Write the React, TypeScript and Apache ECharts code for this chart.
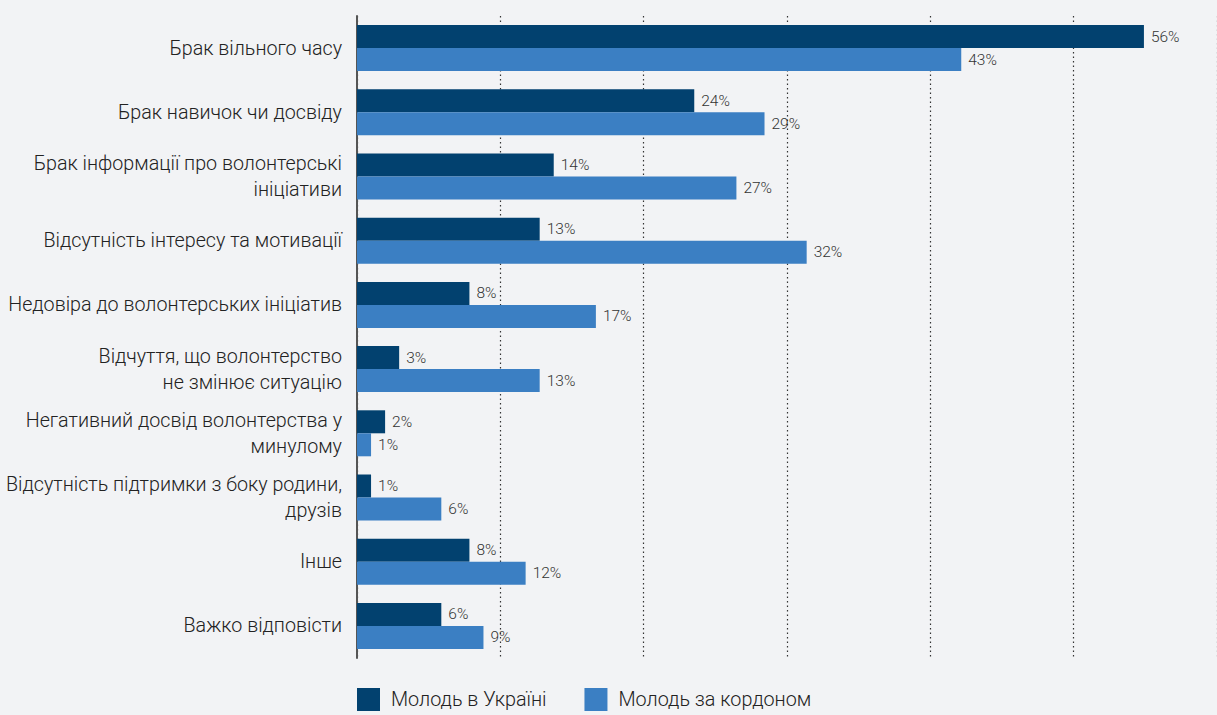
import React, { useEffect, useRef } from "react";
import * as echarts from "echarts";

const categories = [
  "Брак вільного часу",
  "Брак навичок чи досвіду",
  "Брак інформації про волонтерські\nініціативи",
  "Відсутність інтересу та мотивації",
  "Недовіра до волонтерських ініціатив",
  "Відчуття, що волонтерство\nне змінює ситуацію",
  "Негативний досвід волонтерства у\nминулому",
  "Відсутність підтримки з боку родини,\nдрузів",
  "Інше",
  "Важко відповісти",
];
const seriesNames = ["Молодь в Україні", "Молодь за кордоном"];
const ukraine = [56, 24, 14, 13, 8, 3, 2, 1, 8, 6];
const abroad = [43, 29, 27, 32, 17, 13, 1, 6, 12, 9];

const FONT = "Roboto, 'Liberation Sans', sans-serif";

export default function App() {
  const ref = useRef<HTMLDivElement>(null);
  useEffect(() => {
    if (!ref.current) return;
    const chart = echarts.init(ref.current, null, { renderer: "svg" });
    const label = {
      show: true,
      position: "right" as const,
      distance: 7,
      formatter: "{c}%",
      color: "#333",
      fontSize: 15.5,
      fontWeight: 300,
      fontFamily: FONT,
    };
    chart.setOption({
      animation: false,
      backgroundColor: "#f2f3f5",
      textStyle: { fontFamily: FONT },
      grid: { left: 357, right: 0, top: 16, bottom: 57, containLabel: false },
      legend: {
        left: 357,
        top: 688,
        padding: 0,
        itemWidth: 23,
        itemHeight: 23,
        itemGap: 38,
        icon: "rect",
        textStyle: {
          fontSize: 19.8,
          fontWeight: 300,
          color: "#222",
          padding: [0, 0, 0, 6],
          fontFamily: FONT,
        },
        data: seriesNames,
      },
      xAxis: {
        type: "value",
        min: 0,
        max: 61.2,
        interval: 10.2,
        axisLabel: { show: false },
        axisLine: { show: false },
        axisTick: { show: false },
        splitLine: { show: true, lineStyle: { type: [1.5, 3], color: "#333", width: 1.2 } },
      },
      yAxis: {
        type: "category",
        inverse: true,
        data: categories,
        axisTick: { show: false },
        axisLine: { show: true, lineStyle: { color: "#555", width: 2 } },
        axisLabel: {
          margin: 15,
          fontSize: 19.7,
          fontWeight: 300,
          lineHeight: 26,
          color: "#222",
          fontFamily: FONT,
        },
      },
      series: [
        {
          name: seriesNames[0],
          type: "bar",
          data: ukraine,
          barWidth: 23,
          barGap: "0%",
          itemStyle: { color: "#02416f" },
          label,
        },
        {
          name: seriesNames[1],
          type: "bar",
          data: abroad,
          barWidth: 23,
          barGap: "0%",
          itemStyle: { color: "#3b7fc3" },
          label,
        },
      ],
    });
    return () => chart.dispose();
  }, []);
  return (
    <div
      ref={ref}
      style={{ position: "fixed", left: 0, top: 0, width: 1217, height: 715 }}
    />
  );
}
